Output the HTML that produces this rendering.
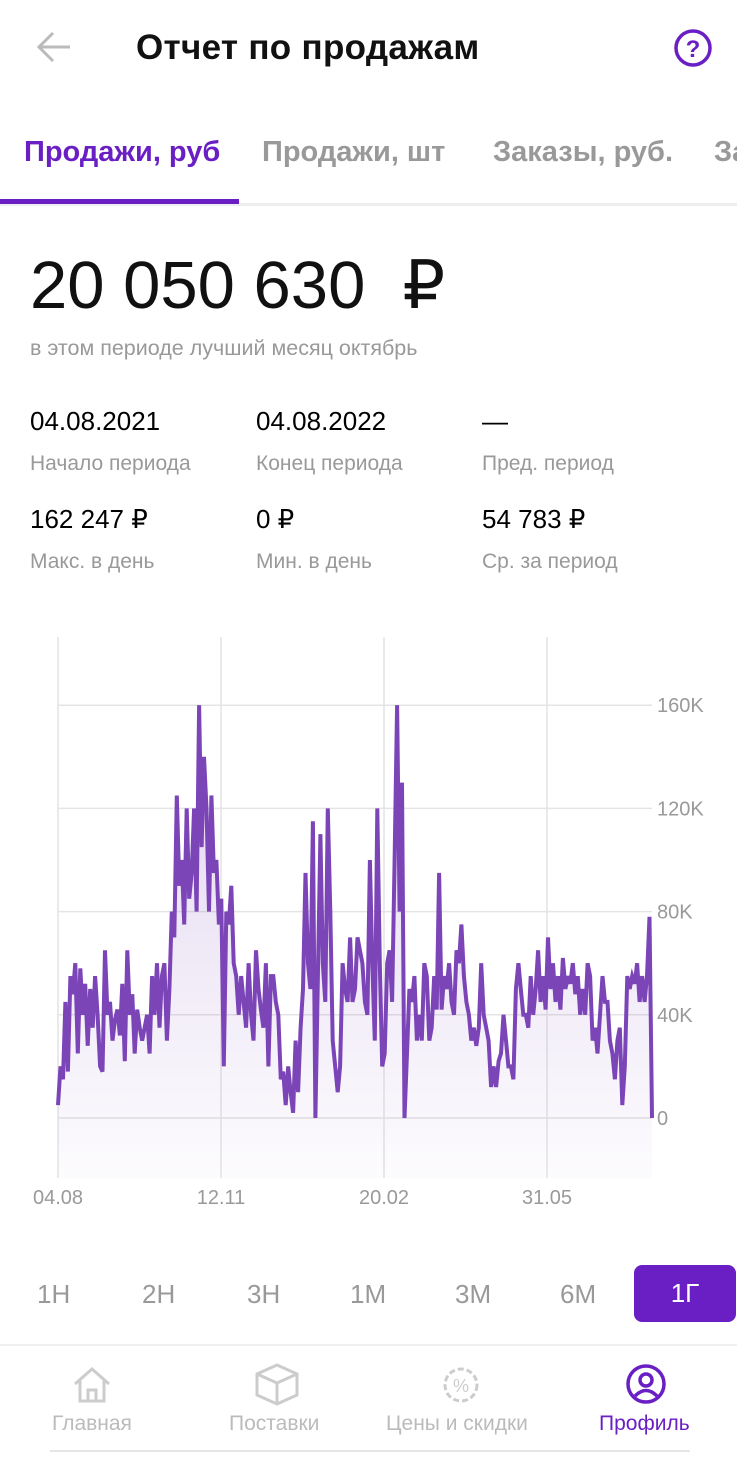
<!DOCTYPE html>
<html><head><meta charset="utf-8"><style>
body{margin:0;width:737px;height:1460px;background:#fff;font-family:"Liberation Sans",sans-serif;position:relative;overflow:hidden}
.a{position:absolute;white-space:nowrap}
.g{color:#999}
</style></head><body>
<svg class="a" style="left:36px;top:30px" width="36" height="34"><path d="M34 17 H4 M17 3 L3 17 L17 31" fill="none" stroke="#bbb" stroke-width="3"/></svg>
<div class="a" style="left:136px;top:28px;font-size:35px;font-weight:bold;color:#111;letter-spacing:0.3px">Отчет по продажам</div>
<svg class="a" style="left:673px;top:28px" width="40" height="40"><circle cx="20" cy="20" r="17" fill="none" stroke="#6a1fc4" stroke-width="3.5"/><text x="20" y="29" text-anchor="middle" font-size="24" font-weight="bold" fill="#6a1fc4" font-family="Liberation Sans">?</text></svg>
<div class="a" style="left:24px;top:136px;font-size:29px;font-weight:bold;color:#6a1fc4">Продажи, руб</div>
<div class="a" style="left:262px;top:136px;font-size:29px;font-weight:bold;color:#999">Продажи, шт</div>
<div class="a" style="left:493px;top:136px;font-size:29px;font-weight:bold;color:#999">Заказы, руб.</div>
<div class="a" style="left:714px;top:136px;font-size:29px;font-weight:bold;color:#999">За</div>
<div class="a" style="left:0;top:203px;width:737px;height:3px;background:#eee"></div>
<div class="a" style="left:0;top:199px;width:239px;height:5px;background:#6a1fc4"></div>
<div class="a" style="left:30px;top:246px;font-size:67px;color:#111">20 050 630 &nbsp;₽</div>
<div class="a g" style="left:30px;top:336px;font-size:21.5px">в этом периоде лучший месяц октябрь</div>
<div class="a" style="left:30px;top:406px;font-size:26px">04.08.2021</div>
<div class="a g" style="left:30px;top:452px;font-size:21px">Начало периода</div>
<div class="a" style="left:256px;top:406px;font-size:26px">04.08.2022</div>
<div class="a g" style="left:256px;top:452px;font-size:21px">Конец периода</div>
<div class="a" style="left:482px;top:406px;font-size:26px">—</div>
<div class="a g" style="left:482px;top:452px;font-size:21px">Пред. период</div>
<div class="a" style="left:30px;top:504px;font-size:26px">162 247 ₽</div>
<div class="a g" style="left:30px;top:550px;font-size:21px">Макс. в день</div>
<div class="a" style="left:256px;top:504px;font-size:26px">0 ₽</div>
<div class="a g" style="left:256px;top:550px;font-size:21px">Мин. в день</div>
<div class="a" style="left:482px;top:504px;font-size:26px">54 783 ₽</div>
<div class="a g" style="left:482px;top:550px;font-size:21px">Ср. за период</div>

<svg class="a" id="chart" style="left:0;top:630px" width="737" height="590"></svg>

<div class="a g" style="left:37px;top:1279px;font-size:26px">1Н</div>
<div class="a g" style="left:142px;top:1279px;font-size:26px">2Н</div>
<div class="a g" style="left:247px;top:1279px;font-size:26px">3Н</div>
<div class="a g" style="left:350px;top:1279px;font-size:26px">1М</div>
<div class="a g" style="left:455px;top:1279px;font-size:26px">3М</div>
<div class="a g" style="left:560px;top:1279px;font-size:26px">6М</div>
<div class="a" style="left:634px;top:1265px;width:102px;height:57px;background:#6a1fc4;border-radius:8px;color:#fff;font-size:26px;text-align:center;line-height:57px">1Г</div>
<div class="a" style="left:0;top:1344px;width:737px;height:2px;background:#f0f0f0"></div>
<svg class="a" style="left:71px;top:1366px" width="42" height="38"><path d="M4 18 L21 3 L38 18 M9 14 V35 H33 V14 M17 35 V24 H25 V35" fill="none" stroke="#ccc" stroke-width="3"/></svg>
<div class="a" style="left:52px;top:1412px;font-size:21px;color:#bbb">Главная</div>
<svg class="a" style="left:254px;top:1362px" width="46" height="44"><path d="M23 3 L43 12 V33 L23 42 L3 33 V12 Z M3 12 L23 21 L43 12 M23 21 V42" fill="none" stroke="#ccc" stroke-width="3"/></svg>
<div class="a" style="left:229px;top:1412px;font-size:21px;color:#bbb">Поставки</div>
<svg class="a" style="left:441px;top:1365px" width="40" height="40"><circle cx="20" cy="20" r="16" fill="none" stroke="#ccc" stroke-width="3" stroke-dasharray="6 3"/><text x="20" y="27" text-anchor="middle" font-size="18" fill="#ccc">%</text></svg>
<div class="a" style="left:386px;top:1412px;font-size:21px;color:#bbb">Цены и скидки</div>
<svg class="a" style="left:625px;top:1363px" width="42" height="42"><circle cx="21" cy="21" r="18" fill="none" stroke="#6a1fc4" stroke-width="3.5"/><circle cx="21" cy="17" r="6" fill="none" stroke="#6a1fc4" stroke-width="3.5"/><path d="M10 33 Q21 22 32 33" fill="none" stroke="#6a1fc4" stroke-width="3.5"/></svg>
<div class="a" style="left:599px;top:1412px;font-size:21px;color:#6a1fc4">Профиль</div>
<div class="a" style="left:50px;top:1450px;width:640px;height:2px;background:#e6e6e6"></div>

<script>
const values=[5,20,15,45,18,55,48,60,25,58,40,52,28,50,35,55,40,20,18,65,40,45,30,38,42,32,52,22,65,40,48,25,42,35,30,35,40,25,55,40,60,35,55,60,30,50,80,70,125,90,100,75,120,85,95,120,80,160,105,140,120,80,125,95,100,75,85,20,80,75,90,60,55,40,55,45,35,60,40,30,65,50,42,35,60,20,55,55,45,40,15,18,5,20,10,2,30,10,35,50,95,60,50,115,0,55,110,60,45,120,80,30,20,10,20,60,50,45,70,45,50,70,65,60,45,40,100,60,30,120,60,20,25,60,65,45,100,160,80,130,0,25,50,45,55,30,40,30,60,55,30,35,55,42,95,42,55,50,60,45,40,65,60,75,55,45,40,30,35,28,35,60,40,35,30,12,20,12,22,25,40,30,20,20,15,50,60,50,40,40,35,55,40,50,65,45,55,42,70,50,60,45,55,42,62,50,55,52,60,48,55,40,50,40,60,55,30,35,25,40,55,45,45,30,25,15,30,35,5,20,55,50,55,52,60,45,55,45,55,78,0];
const yTicks=[0,40,80,120,160];
const yTickLabels=["0","40K","80K","120K","160K"];
const xLabels=["04.08","12.11","20.02","31.05"];
const svg=document.getElementById('chart');const NS='http://www.w3.org/2000/svg';
const X0=58,X1=652,Y0=488,PX=2.58;
const x=i=>X0+(X1-X0)*i/(values.length-1);
const y=v=>Y0-v*PX;
function mk(t,a){const e=document.createElementNS(NS,t);for(const k in a)e.setAttribute(k,a[k]);svg.appendChild(e);return e;}
svg.innerHTML='<defs><linearGradient id="gf" x1="0" y1="0" x2="0" y2="1"><stop offset="0" stop-color="#7b45b8" stop-opacity="0.22"/><stop offset="1" stop-color="#7b45b8" stop-opacity="0.02"/></linearGradient></defs>';
xLabels.forEach((l,i)=>{const gx=X0+163*i;
const ln=mk('line',{x1:gx,x2:gx,y1:7,y2:548,stroke:'#e4e4e4','stroke-width':1.5});

const t=mk('text',{x:gx,y:574,'text-anchor':'middle','font-size':20,fill:'#999','font-family':'Liberation Sans'});t.textContent=l;
});
yTicks.forEach((v,i)=>{const ln=mk('line',{x1:X0,x2:X1,y1:y(v),y2:y(v),stroke:'#e4e4e4','stroke-width':1.5});

const t=mk('text',{x:657,y:y(v)+7,'font-size':20,fill:'#999','font-family':'Liberation Sans'});t.textContent=yTickLabels[i];
});
let d='';values.forEach((v,i)=>{d+=(i?'L':'M')+x(i).toFixed(1)+' '+y(v).toFixed(1);});
const area=mk('path',{d:d+'L'+X1+' 548L'+X0+' 548Z',fill:'url(#gf)'});

const line=mk('path',{d:d,fill:'none',stroke:'#7b45b8','stroke-width':4,'stroke-linejoin':'miter'});

</script>
</body></html>
